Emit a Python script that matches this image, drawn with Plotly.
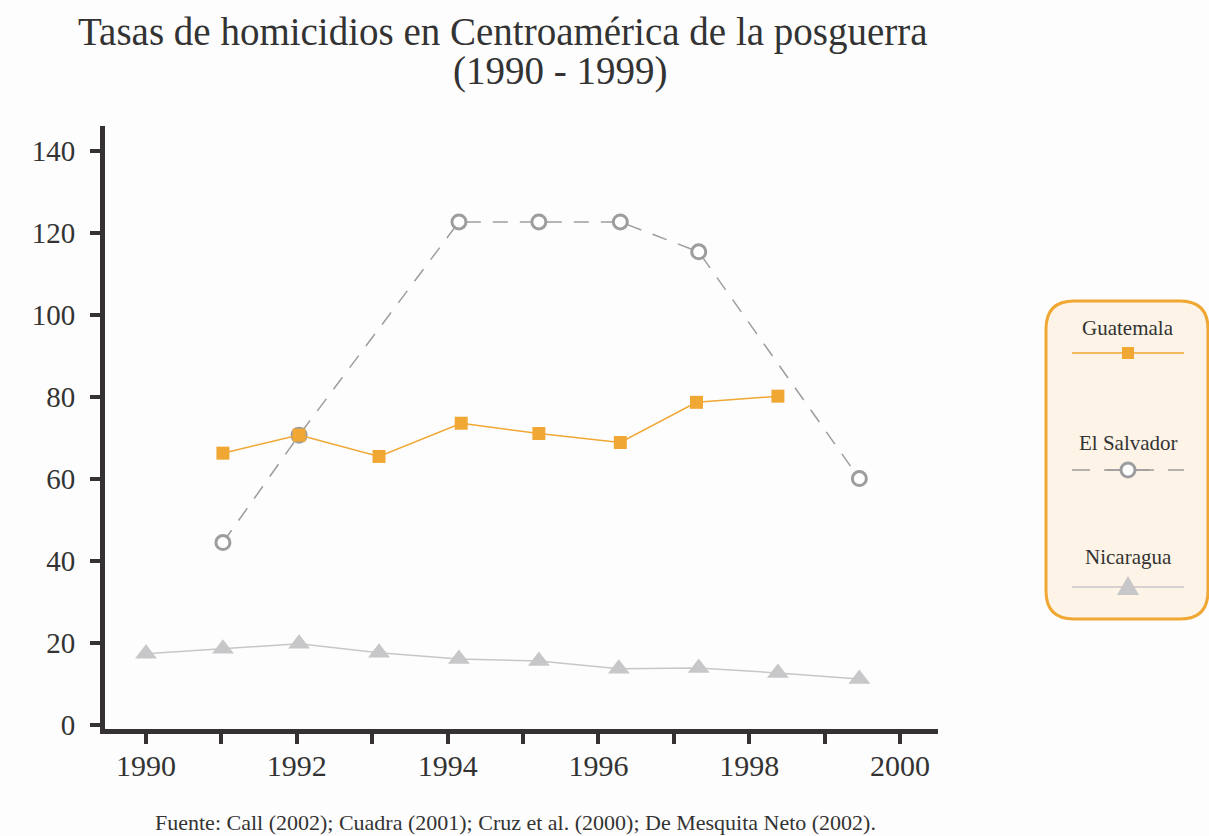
import plotly.graph_objects as go

# ---------------- data ----------------
years_gt = [1991.02, 1992.03, 1993.09, 1994.18, 1995.21, 1996.29, 1997.30, 1998.38]
guatemala = [66.3, 70.7, 65.5, 73.6, 71.1, 68.9, 78.7, 80.2]

years_sv = [1991.02, 1992.03, 1994.15, 1995.21, 1996.29, 1997.33, 1999.46]
el_salvador = [44.5, 70.7, 122.7, 122.7, 122.7, 115.4, 60.1]

years_ni = [1990.0, 1991.02, 1992.03, 1993.09, 1994.15, 1995.21, 1996.27, 1997.33, 1998.38, 1999.46]
nicaragua = [17.4, 18.6, 19.8, 17.6, 16.1, 15.6, 13.7, 13.9, 12.7, 11.2]

x_tick_vals = list(range(1990, 2001))
x_tick_text = [str(v) if v % 2 == 0 else "" for v in x_tick_vals]
y_tick_vals = [0, 20, 40, 60, 80, 100, 120, 140]

series_names = ["Guatemala", "El Salvador", "Nicaragua"]
title_1 = "Tasas de homicidios en Centroamérica de la posguerra"
title_2 = "(1990 - 1999)"
source = "Fuente: Call (2002); Cuadra (2001); Cruz et al. (2000); De Mesquita Neto (2002)."

# ---------------- styling ----------------
ORANGE = "#f0a733"
GRAY_D = "#9d9d9f"
GRAY_L = "#c7c7c9"
AXIS = "#363234"
TEXT = "#333333"
SERIF = "Liberation Serif, Times New Roman, serif"

WIDTH, HEIGHT = 1209, 836
L, R, T, B = 105, 271, 126, 107
PW = WIDTH - L - R
PH = HEIGHT - T - B


def px(x):
    return (x - L) / PW


def py(y):
    return (HEIGHT - B - y) / PH


fig = go.Figure()

fig.add_trace(go.Scatter(
    x=years_ni, y=nicaragua, name=series_names[2], mode="lines+markers",
    line=dict(color=GRAY_L, width=1.5),
    marker=dict(symbol="triangle-up", size=19, color=GRAY_L),
    showlegend=False))

fig.add_trace(go.Scatter(
    x=years_sv, y=el_salvador, name=series_names[1], mode="lines+markers",
    line=dict(color=GRAY_D, width=1.5, dash="15px,12px"),
    marker=dict(symbol="circle", size=14, color="white", line=dict(color=GRAY_D, width=3)),
    showlegend=False))

fig.add_trace(go.Scatter(
    x=years_gt, y=guatemala, name=series_names[0], mode="lines+markers",
    line=dict(color=ORANGE, width=1.5),
    marker=dict(symbol="square", size=13, color=ORANGE),
    showlegend=False))

shapes = []
annotations = []

# legend box (rounded)
bx0, by0, bx1, by1, rr = 1046, 301, 1208, 619, 28
path = (f"M {px(bx0 + rr)} {py(by0)} L {px(bx1 - rr)} {py(by0)} "
        f"Q {px(bx1)} {py(by0)} {px(bx1)} {py(by0 + rr)} "
        f"L {px(bx1)} {py(by1 - rr)} Q {px(bx1)} {py(by1)} {px(bx1 - rr)} {py(by1)} "
        f"L {px(bx0 + rr)} {py(by1)} Q {px(bx0)} {py(by1)} {px(bx0)} {py(by1 - rr)} "
        f"L {px(bx0)} {py(by0 + rr)} Q {px(bx0)} {py(by0)} {px(bx0 + rr)} {py(by0)} Z")
shapes.append(dict(type="path", xref="paper", yref="paper", path=path,
                   fillcolor="#fdf3e6", line=dict(color=ORANGE, width=3), layer="below"))

cx = 1128
leg_rows = [(328, 353), (443, 470), (557, 587)]
for name, (ty, ly) in zip(series_names, leg_rows):
    annotations.append(dict(x=px(cx), y=py(ty), xref="paper", yref="paper", text=name,
                            showarrow=False, xanchor="center", yanchor="middle",
                            font=dict(family=SERIF, size=21, color=TEXT)))

# Guatemala sample
ly = leg_rows[0][1]
shapes.append(dict(type="line", xref="paper", yref="paper", x0=px(1072), x1=px(1184),
                   y0=py(ly), y1=py(ly), line=dict(color=ORANGE, width=1.5)))
shapes.append(dict(type="rect", xref="paper", yref="paper", x0=px(cx - 6), x1=px(cx + 6),
                   y0=py(ly + 6), y1=py(ly - 6), fillcolor=ORANGE, line=dict(width=0)))
# El Salvador sample
ly = leg_rows[1][1]
shapes.append(dict(type="line", xref="paper", yref="paper", x0=px(1072), x1=px(1184),
                   y0=py(ly), y1=py(ly), line=dict(color=GRAY_D, width=1.5, dash="18px,14px")))
shapes.append(dict(type="line", xref="paper", yref="paper", x0=px(1106), x1=px(1150),
                   y0=py(ly), y1=py(ly), line=dict(color=GRAY_D, width=1.5)))
shapes.append(dict(type="circle", xref="paper", yref="paper", x0=px(cx - 7), x1=px(cx + 7),
                   y0=py(ly + 7), y1=py(ly - 7), fillcolor="white", line=dict(color=GRAY_D, width=3)))
# Nicaragua sample
ly = leg_rows[2][1]
shapes.append(dict(type="line", xref="paper", yref="paper", x0=px(1072), x1=px(1184),
                   y0=py(ly), y1=py(ly), line=dict(color=GRAY_L, width=1.5)))
shapes.append(dict(type="path", xref="paper", yref="paper",
                   path=f"M {px(cx - 11)} {py(ly + 8)} L {px(cx + 11)} {py(ly + 8)} L {px(cx)} {py(ly - 11)} Z",
                   fillcolor=GRAY_L, line=dict(width=0)))

# titles and source
annotations.append(dict(x=px(503), y=py(32), xref="paper", yref="paper", text=title_1,
                        showarrow=False, xanchor="center", yanchor="middle",
                        font=dict(family=SERIF, size=39, color=TEXT)))
annotations.append(dict(x=px(560), y=py(71), xref="paper", yref="paper", text=title_2,
                        showarrow=False, xanchor="center", yanchor="middle",
                        font=dict(family=SERIF, size=39, color=TEXT)))
annotations.append(dict(x=px(515), y=py(822), xref="paper", yref="paper", text=source,
                        showarrow=False, xanchor="center", yanchor="middle",
                        font=dict(family=SERIF, size=22, color=TEXT)))

fig.update_layout(
    width=WIDTH, height=HEIGHT,
    margin=dict(l=L, r=R, t=T, b=B, pad=0),
    paper_bgcolor="#fdfdfd", plot_bgcolor="#fdfdfd",
    showlegend=False,
    shapes=shapes, annotations=annotations,
    xaxis=dict(range=[1989.456, 2000.503], tickvals=x_tick_vals, ticktext=x_tick_text,
               showgrid=False, zeroline=False, showline=True, linecolor=AXIS, linewidth=5,
               ticks="outside", ticklen=10, tickwidth=4, tickcolor=AXIS,
               ticklabelstandoff=-4,
               tickfont=dict(family=SERIF, size=30, color=TEXT)),
    yaxis=dict(range=[-0.98, 146.1], tickvals=y_tick_vals,
               showgrid=False, zeroline=False, showline=True, linecolor=AXIS, linewidth=5,
               ticks="outside", ticklen=10, tickwidth=4, tickcolor=AXIS,
               ticklabelstandoff=9,
               tickfont=dict(family=SERIF, size=29, color=TEXT)),
)

fig.write_html("out.html", config={"displayModeBar": False},
               post_script="document.body.style.margin='0px';document.body.style.overflow='hidden';")
